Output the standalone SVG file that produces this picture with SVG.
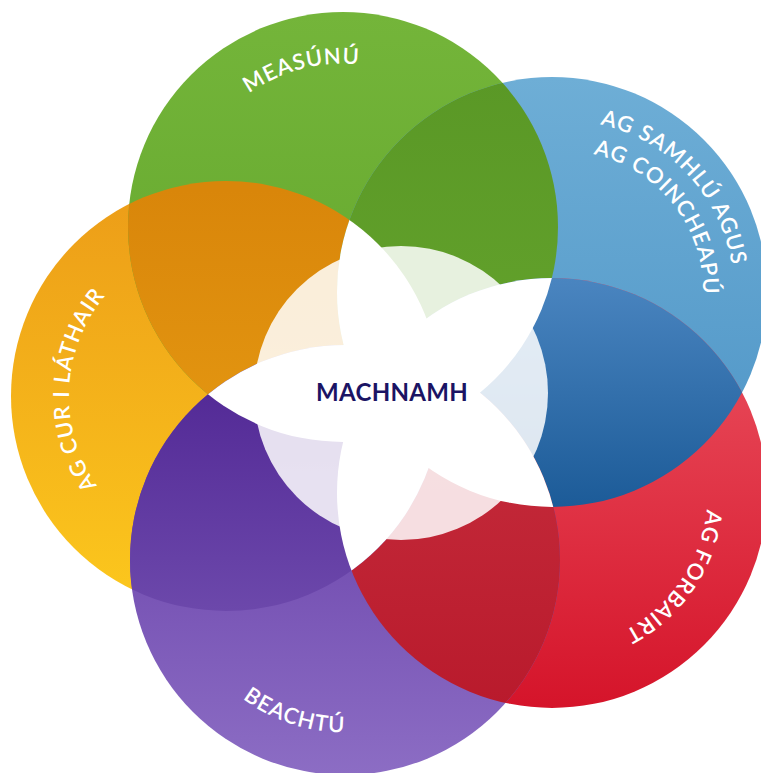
<svg xmlns="http://www.w3.org/2000/svg" width="761" height="773" viewBox="0 0 761 773">
<style>
.lbl{font-family:Lato,"Open Sans","DejaVu Sans",sans-serif;font-size:22px;font-weight:600;fill:#ffffff;letter-spacing:1px}
.ctr{font-family:Lato,"DejaVu Sans",sans-serif;font-size:24px;font-weight:700;fill:#1b1464;letter-spacing:0.3px}
</style>
<defs>
<linearGradient id="gO" x1="0" y1="0" x2="0" y2="1"><stop offset="0" stop-color="#ec9c18"/><stop offset="1" stop-color="#fcc81d"/></linearGradient>
<linearGradient id="gG" x1="0" y1="0" x2="0" y2="1"><stop offset="0" stop-color="#74b53a"/><stop offset="1" stop-color="#62a52b"/></linearGradient>
<linearGradient id="gB" x1="0" y1="0" x2="0" y2="1"><stop offset="0" stop-color="#6eaed6"/><stop offset="1" stop-color="#4d94c6"/></linearGradient>
<linearGradient id="gR" x1="0" y1="0" x2="0" y2="1"><stop offset="0" stop-color="#ec5563"/><stop offset="1" stop-color="#d5142a"/></linearGradient>
<linearGradient id="gP" x1="0" y1="0" x2="0" y2="1"><stop offset="0" stop-color="#5e34a2"/><stop offset="1" stop-color="#8c6dc4"/></linearGradient>
<linearGradient id="gOG" gradientUnits="userSpaceOnUse" x1="0" y1="190" x2="0" y2="400"><stop offset="0" stop-color="#d9860a"/><stop offset="1" stop-color="#e29410"/></linearGradient>
<linearGradient id="gGB" gradientUnits="userSpaceOnUse" x1="0" y1="77" x2="0" y2="330"><stop offset="0" stop-color="#5a9826"/><stop offset="1" stop-color="#62a12b"/></linearGradient>
<linearGradient id="gBR" gradientUnits="userSpaceOnUse" x1="0" y1="278" x2="0" y2="507"><stop offset="0" stop-color="#4a85c0"/><stop offset="1" stop-color="#1c5b98"/></linearGradient>
<linearGradient id="gRP" gradientUnits="userSpaceOnUse" x1="0" y1="345" x2="0" y2="708"><stop offset="0" stop-color="#c8303f"/><stop offset="1" stop-color="#b91a2c"/></linearGradient>
<linearGradient id="gPO" gradientUnits="userSpaceOnUse" x1="0" y1="345" x2="0" y2="611"><stop offset="0" stop-color="#4e2492"/><stop offset="1" stop-color="#6c48ab"/></linearGradient>
<clipPath id="cO"><circle cx="226" cy="396" r="215"/></clipPath>
<clipPath id="cG"><circle cx="343" cy="227" r="215"/></clipPath>
<clipPath id="cB"><circle cx="552" cy="292" r="215"/></clipPath>
<clipPath id="cR"><circle cx="552" cy="493" r="215"/></clipPath>
<clipPath id="cP"><circle cx="345" cy="560" r="215"/></clipPath>
<path id="pG" d="M182.3,254.5 A163,163 0 0 1 496.5,172.1"/>
<path id="pB1" d="M456.1,156.5 A172,172 0 0 1 689.8,407.1"/>
<path id="pB2" d="M485.2,173.7 A141,141 0 0 1 658.2,395.1"/>
<path id="pR" d="M650.8,372.3 A156,156 0 0 1 475.7,629"/>
<path id="pP" d="M177.5,520.7 A172,172 0 0 0 503.1,627.8"/>
<path id="pO" d="M205.5,551.6 A157,157 0 0 1 219.2,239.1"/>
</defs>
<rect width="761" height="773" fill="#ffffff"/>
<g id="node-orange">
<circle cx="226" cy="396" r="215" fill="url(#gO)"/>
<text class="lbl"><textPath href="#pO" startOffset="50%" text-anchor="middle">AG CUR I LÁTHAIR</textPath></text>
</g>
<g id="node-green">
<circle cx="343" cy="227" r="215" fill="url(#gG)"/>
<text class="lbl"><textPath href="#pG" startOffset="50%" text-anchor="middle">MEASÚNÚ</textPath></text>
</g>
<g id="node-blue">
<circle cx="552" cy="292" r="215" fill="url(#gB)"/>
<text class="lbl"><textPath href="#pB1" startOffset="50%" text-anchor="middle">AG SAMHLÚ AGUS</textPath></text>
<text class="lbl"><textPath href="#pB2" startOffset="50%" text-anchor="middle">AG COINCHEAPÚ</textPath></text>
</g>
<g id="node-red">
<circle cx="552" cy="493" r="215" fill="url(#gR)"/>
<text class="lbl"><textPath href="#pR" startOffset="50%" text-anchor="middle">AG FORBAIRT</textPath></text>
</g>
<g id="node-purple">
<circle cx="345" cy="560" r="215" fill="url(#gP)"/>
<text class="lbl"><textPath href="#pP" startOffset="50%" text-anchor="middle">BEACHTÚ</textPath></text>
</g>
<g id="overlaps">
<circle cx="226" cy="396" r="215" fill="url(#gOG)" clip-path="url(#cG)"/>
<circle cx="343" cy="227" r="215" fill="url(#gGB)" clip-path="url(#cB)"/>
<circle cx="552" cy="292" r="215" fill="url(#gBR)" clip-path="url(#cR)"/>
<circle cx="552" cy="493" r="215" fill="url(#gRP)" clip-path="url(#cP)"/>
<circle cx="345" cy="560" r="215" fill="url(#gPO)" clip-path="url(#cO)"/>
</g>
<g id="node-machnamh">
<circle cx="401" cy="393" r="147" fill="#ffffff" fill-opacity="0.85"/>
<g fill="#ffffff">
<circle cx="226" cy="396" r="215" clip-path="url(#cB)"/>
<circle cx="343" cy="227" r="215" clip-path="url(#cR)"/>
<circle cx="552" cy="292" r="215" clip-path="url(#cP)"/>
<circle cx="552" cy="493" r="215" clip-path="url(#cO)"/>
<circle cx="345" cy="560" r="215" clip-path="url(#cG)"/>
</g>
<text class="ctr" x="392" y="401" text-anchor="middle">MACHNAMH</text>
</g>
</svg>
